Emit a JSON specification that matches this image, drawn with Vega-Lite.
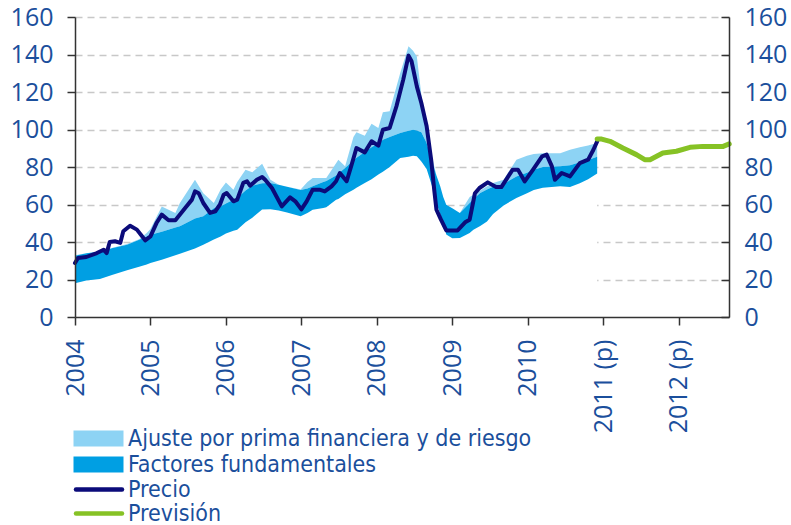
{
  "$schema": "https://vega.github.io/schema/vega-lite/v6.json",
  "width": 654,
  "height": 300,
  "autosize": {"type": "none"},
  "padding": {"left": 75, "top": 17, "right": 62, "bottom": 208},
  "background": "white",
  "config": {
    "view": {"stroke": null},
    "axis": {
      "labelFont": "Open Sans",
      "labelFontSize": 25,
      "labelColor": "#1b4f9c",
      "domainColor": "#333333",
      "domainWidth": 1.5,
      "tickColor": "#333333",
      "tickWidth": 1.5,
      "tickSize": 8,
      "labelPadding": 14,
      "title": null
    },
    "legend": {
      "orient": "none",
      "padding": 0,
      "labelFont": "DejaVu Sans Condensed",
      "labelFontSize": 23,
      "labelColor": "#1b4f9c",
      "labelLimit": 0,
      "symbolSize": 100,
      "title": null
    }
  },
  "datasets": {
    "bands": [
      {"t": 2004.00, "lo": 18, "mid": 32.7, "hi": 33},
      {"t": 2004.15, "lo": 19.5, "mid": 34, "hi": 34},
      {"t": 2004.33, "lo": 20.3, "mid": 35, "hi": 35},
      {"t": 2004.50, "lo": 22.5, "mid": 36.8, "hi": 37},
      {"t": 2004.69, "lo": 24.9, "mid": 38.6, "hi": 39},
      {"t": 2004.85, "lo": 26.8, "mid": 41.2, "hi": 41.5},
      {"t": 2004.95, "lo": 28, "mid": 43, "hi": 44.8},
      {"t": 2005.00, "lo": 28.8, "mid": 43.9, "hi": 47},
      {"t": 2005.15, "lo": 30.5, "mid": 45.5, "hi": 59},
      {"t": 2005.33, "lo": 33, "mid": 47.8, "hi": 55.5},
      {"t": 2005.39, "lo": 33.8, "mid": 48.4, "hi": 60.8},
      {"t": 2005.59, "lo": 36.5, "mid": 52.5, "hi": 73.2},
      {"t": 2005.70, "lo": 38.5, "mid": 53.7, "hi": 66},
      {"t": 2005.84, "lo": 41.3, "mid": 58, "hi": 60.8},
      {"t": 2005.93, "lo": 43, "mid": 59, "hi": 68},
      {"t": 2006.00, "lo": 44.5, "mid": 60.5, "hi": 71.8},
      {"t": 2006.10, "lo": 46, "mid": 62.5, "hi": 67.9},
      {"t": 2006.15, "lo": 46.6, "mid": 63.5, "hi": 72},
      {"t": 2006.26, "lo": 50.5, "mid": 67.5, "hi": 78.6},
      {"t": 2006.35, "lo": 53, "mid": 70, "hi": 77.2},
      {"t": 2006.48, "lo": 57.3, "mid": 71.3, "hi": 81.8},
      {"t": 2006.59, "lo": 57.5, "mid": 71.5, "hi": 73.2},
      {"t": 2006.70, "lo": 56.8, "mid": 70.5, "hi": 70.5},
      {"t": 2006.81, "lo": 55.8, "mid": 69.5, "hi": 69.5},
      {"t": 2006.99, "lo": 53.7, "mid": 67.8, "hi": 68},
      {"t": 2007.08, "lo": 55.5, "mid": 68.5, "hi": 72},
      {"t": 2007.15, "lo": 57.2, "mid": 69.7, "hi": 74.1},
      {"t": 2007.29, "lo": 58.1, "mid": 72, "hi": 74.1},
      {"t": 2007.33, "lo": 58.5, "mid": 72.6, "hi": 74.1},
      {"t": 2007.46, "lo": 62.6, "mid": 75.5, "hi": 82},
      {"t": 2007.49, "lo": 63, "mid": 76.5, "hi": 83.9},
      {"t": 2007.58, "lo": 65.5, "mid": 79.5, "hi": 80.4},
      {"t": 2007.69, "lo": 67.9, "mid": 83.5, "hi": 96},
      {"t": 2007.73, "lo": 69, "mid": 85, "hi": 98.5},
      {"t": 2007.84, "lo": 71.5, "mid": 88, "hi": 96.7},
      {"t": 2007.93, "lo": 73.5, "mid": 90.5, "hi": 103.1},
      {"t": 2008.02, "lo": 76, "mid": 92.5, "hi": 100.8},
      {"t": 2008.08, "lo": 77.5, "mid": 94.6, "hi": 109.2},
      {"t": 2008.17, "lo": 80, "mid": 96, "hi": 109.7},
      {"t": 2008.31, "lo": 84.8, "mid": 98.1, "hi": 130.1},
      {"t": 2008.42, "lo": 85.5, "mid": 99.3, "hi": 144.4},
      {"t": 2008.48, "lo": 86, "mid": 99.9, "hi": 142},
      {"t": 2008.53, "lo": 85.7, "mid": 99.5, "hi": 139},
      {"t": 2008.59, "lo": 83, "mid": 98.5, "hi": 118.6},
      {"t": 2008.66, "lo": 79, "mid": 92.8, "hi": 101.7},
      {"t": 2008.73, "lo": 70, "mid": 83, "hi": 85.7},
      {"t": 2008.79, "lo": 60.8, "mid": 75.5, "hi": 75.5},
      {"t": 2008.84, "lo": 55, "mid": 69.7, "hi": 69.7},
      {"t": 2008.88, "lo": 50.1, "mid": 64, "hi": 64},
      {"t": 2008.92, "lo": 44, "mid": 59.9, "hi": 59.9},
      {"t": 2009.00, "lo": 42, "mid": 58, "hi": 58},
      {"t": 2009.10, "lo": 42.1, "mid": 55.5, "hi": 55.5},
      {"t": 2009.23, "lo": 44.8, "mid": 60.8, "hi": 64},
      {"t": 2009.28, "lo": 46.5, "mid": 63, "hi": 65.2},
      {"t": 2009.37, "lo": 48.5, "mid": 66.1, "hi": 67.5},
      {"t": 2009.46, "lo": 51, "mid": 68, "hi": 69.7},
      {"t": 2009.54, "lo": 55, "mid": 69.5, "hi": 71.5},
      {"t": 2009.68, "lo": 59.5, "mid": 71, "hi": 73.2},
      {"t": 2009.85, "lo": 63.5, "mid": 75, "hi": 83.9},
      {"t": 2009.99, "lo": 66, "mid": 77, "hi": 86},
      {"t": 2010.08, "lo": 67.8, "mid": 78.6, "hi": 87},
      {"t": 2010.20, "lo": 69, "mid": 80, "hi": 87.3},
      {"t": 2010.43, "lo": 69.7, "mid": 80.4, "hi": 87.4},
      {"t": 2010.56, "lo": 69.3, "mid": 81, "hi": 89.2},
      {"t": 2010.69, "lo": 71.3, "mid": 82.5, "hi": 90.5},
      {"t": 2010.80, "lo": 73.5, "mid": 83.8, "hi": 91.5},
      {"t": 2010.92, "lo": 76.5, "mid": 85.5, "hi": 92.8}
    ],
    "precio": [
      {"t": 2004.00, "v": 28.8}, {"t": 2004.04, "v": 31.5}, {"t": 2004.15, "v": 32},
      {"t": 2004.29, "v": 34.1}, {"t": 2004.38, "v": 35.9}, {"t": 2004.42, "v": 34.1},
      {"t": 2004.46, "v": 40}, {"t": 2004.53, "v": 40.4}, {"t": 2004.60, "v": 39.5},
      {"t": 2004.64, "v": 45.7}, {"t": 2004.73, "v": 48.7}, {"t": 2004.82, "v": 46.6},
      {"t": 2004.93, "v": 40.9}, {"t": 2005.00, "v": 43}, {"t": 2005.08, "v": 50.1},
      {"t": 2005.15, "v": 54.6}, {"t": 2005.24, "v": 51.6}, {"t": 2005.33, "v": 51.6},
      {"t": 2005.46, "v": 58.1}, {"t": 2005.55, "v": 62.6}, {"t": 2005.59, "v": 67},
      {"t": 2005.64, "v": 66}, {"t": 2005.70, "v": 60.8}, {"t": 2005.79, "v": 55.5},
      {"t": 2005.86, "v": 56.4}, {"t": 2005.92, "v": 59.9}, {"t": 2005.97, "v": 65.2},
      {"t": 2006.01, "v": 66.1}, {"t": 2006.10, "v": 61.7}, {"t": 2006.15, "v": 62.6},
      {"t": 2006.23, "v": 71.5}, {"t": 2006.28, "v": 72.4}, {"t": 2006.32, "v": 70},
      {"t": 2006.41, "v": 73.2}, {"t": 2006.48, "v": 74.7}, {"t": 2006.52, "v": 73.2},
      {"t": 2006.61, "v": 68.8}, {"t": 2006.74, "v": 59}, {"t": 2006.85, "v": 63.8},
      {"t": 2006.92, "v": 61.7}, {"t": 2007.00, "v": 57.4}, {"t": 2007.07, "v": 61.7},
      {"t": 2007.15, "v": 67.9}, {"t": 2007.24, "v": 67.9}, {"t": 2007.31, "v": 67},
      {"t": 2007.40, "v": 69.7}, {"t": 2007.46, "v": 72.4}, {"t": 2007.51, "v": 76.8},
      {"t": 2007.60, "v": 72.4}, {"t": 2007.66, "v": 80.4}, {"t": 2007.73, "v": 90.1},
      {"t": 2007.84, "v": 87.8}, {"t": 2007.93, "v": 93.7}, {"t": 2008.02, "v": 91.4},
      {"t": 2008.08, "v": 99.9}, {"t": 2008.17, "v": 100.8}, {"t": 2008.26, "v": 112.4},
      {"t": 2008.35, "v": 126.6}, {"t": 2008.42, "v": 139.4}, {"t": 2008.46, "v": 136.4},
      {"t": 2008.53, "v": 123}, {"t": 2008.59, "v": 114.1}, {"t": 2008.66, "v": 101.7},
      {"t": 2008.72, "v": 83.9}, {"t": 2008.76, "v": 68}, {"t": 2008.79, "v": 57.2},
      {"t": 2008.85, "v": 51.9}, {"t": 2008.92, "v": 46.2}, {"t": 2009.07, "v": 46.2},
      {"t": 2009.17, "v": 50.5}, {"t": 2009.23, "v": 51.9}, {"t": 2009.30, "v": 66},
      {"t": 2009.36, "v": 68.8}, {"t": 2009.47, "v": 71.8}, {"t": 2009.58, "v": 69.3},
      {"t": 2009.65, "v": 69.3}, {"t": 2009.80, "v": 78.6}, {"t": 2009.87, "v": 78.6},
      {"t": 2009.96, "v": 72.3}, {"t": 2010.07, "v": 78.6}, {"t": 2010.19, "v": 85.7},
      {"t": 2010.25, "v": 86.6}, {"t": 2010.32, "v": 80.3}, {"t": 2010.36, "v": 73.2},
      {"t": 2010.45, "v": 76.8}, {"t": 2010.56, "v": 75}, {"t": 2010.69, "v": 82.1},
      {"t": 2010.80, "v": 83.9}, {"t": 2010.87, "v": 89.2}, {"t": 2010.92, "v": 93.7}
    ],
    "prevision": [
      {"t": 2010.92, "v": 94.9}, {"t": 2010.98, "v": 94.9}, {"t": 2011.09, "v": 93.7},
      {"t": 2011.26, "v": 90.1}, {"t": 2011.44, "v": 86.6}, {"t": 2011.55, "v": 83.9},
      {"t": 2011.62, "v": 83.9}, {"t": 2011.79, "v": 87.5}, {"t": 2011.97, "v": 88.4},
      {"t": 2012.15, "v": 90.5}, {"t": 2012.32, "v": 91}, {"t": 2012.59, "v": 91},
      {"t": 2012.67, "v": 92.3}
    ]
  },
  "encoding": {
    "x": {
      "field": "t",
      "type": "quantitative",
      "scale": {"domain": [2004, 2012.667], "nice": false, "zero": false},
      "axis": {
        "values": [2004, 2005, 2006, 2007, 2008, 2009, 2010, 2011, 2012],
        "grid": false,
        "zindex": 1,
        "labelAngle": -90,
        "labelAlign": "right",
        "labelBaseline": "middle",
        "labelPadding": 14,
        "labelExpr": "datum.value >= 2011 ? format(datum.value, 'd') + ' (p)' : format(datum.value, 'd')"
      }
    }
  },
  "layer": [
    {
      "data": {"name": "bands"},
      "mark": {"type": "area", "color": "white", "opacity": 1},
      "encoding": {
        "y": {
          "field": "lo",
          "type": "quantitative",
          "scale": {"domain": [0, 160], "nice": false},
          "axis": {
            "orient": "left",
            "values": [20, 40, 60, 80, 100, 120, 140, 160],
            "grid": true,
            "gridColor": "#c8c8c8",
            "gridDash": [7, 5],
            "gridWidth": 1.3,
            "domain": false,
            "ticks": false,
            "labels": false,
            "zindex": 0
          }
        },
        "y2": {"datum": 0}
      }
    },
    {
      "data": {"name": "bands"},
      "mark": {"type": "area", "opacity": 1},
      "encoding": {
        "y": {
          "field": "mid",
          "type": "quantitative",
          "axis": {
            "orient": "left",
            "values": [0, 20, 40, 60, 80, 100, 120, 140, 160],
            "grid": false,
            "zindex": 1
          }
        },
        "y2": {"field": "hi"},
        "fill": {
          "datum": "Ajuste por prima financiera y de riesgo",
          "scale": {
            "domain": ["Ajuste por prima financiera y de riesgo", "Factores fundamentales"],
            "range": ["#8dd3f4", "#009fe3"]
          },
          "legend": {
            "legendX": 12,
            "legendY": 410,
            "symbolType": "M-5,-1.6H5V1.6H-5Z",
            "symbolStrokeWidth": 0,
            "symbolOpacity": 1,
            "rowPadding": 2,
            "labelOffset": 18
          }
        }
      }
    },
    {
      "data": {"name": "bands"},
      "mark": {"type": "area", "opacity": 1},
      "encoding": {
        "y": {
          "field": "lo",
          "type": "quantitative",
          "axis": {
            "orient": "right",
            "values": [0, 20, 40, 60, 80, 100, 120, 140, 160],
            "grid": false,
            "zindex": 1,
            "tickSize": -8,
            "labelPadding": 23
          }
        },
        "y2": {"field": "mid"},
        "fill": {"datum": "Factores fundamentales"}
      }
    },
    {
      "data": {"name": "precio"},
      "mark": {"type": "line", "strokeWidth": 4, "strokeJoin": "round", "strokeCap": "round"},
      "encoding": {
        "y": {"field": "v", "type": "quantitative", "axis": null},
        "stroke": {
          "datum": "Precio",
          "scale": {"domain": ["Precio", "Previsión"], "range": ["#0b0b7a", "#86c225"]},
          "legend": {
            "legendX": 12.5,
            "legendY": 461,
            "symbolType": "M-4.6,0H4.6",
            "symbolStrokeWidth": 4.5,
            "rowPadding": -2,
            "labelOffset": 17.5,
            "encode": {"symbols": {"update": {"strokeCap": {"value": "round"}}}}
          }
        }
      }
    },
    {
      "data": {"name": "prevision"},
      "mark": {"type": "line", "strokeWidth": 5, "strokeJoin": "round", "strokeCap": "round"},
      "encoding": {
        "y": {"field": "v", "type": "quantitative", "axis": null},
        "stroke": {"datum": "Previsión"}
      }
    }
  ],
  "resolve": {"axis": {"y": "independent"}}
}
